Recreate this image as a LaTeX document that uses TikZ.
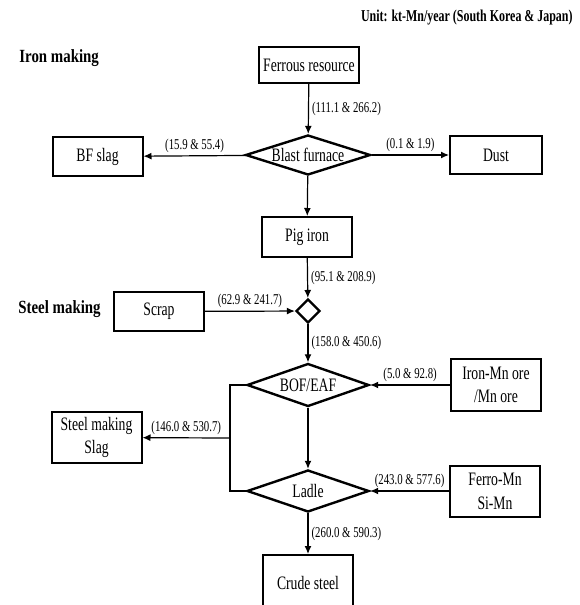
\documentclass[tikz,border=0pt]{standalone}
\usepackage{fontspec}
\setmainfont{Liberation Serif}[FakeStretch=0.72]
\newfontfamily\headfont{Liberation Serif}[FakeStretch=0.8]
\usetikzlibrary{shapes.geometric,arrows.meta}

\begin{document}
\begin{tikzpicture}[x=0.5pt,y=-0.5pt]
        \clip (0,0) rectangle (579,605);
        \tikzstyle{stock}=[rectangle,draw,line width=1pt,inner sep=1pt,align=center,
        minimum width=45pt,font=\fontsize{9.5}{11.75}\selectfont]
        \tikzstyle{process}=[diamond,draw,line width=1.2pt,inner sep=0pt,shape aspect=3,
        minimum width=61pt,minimum height=21pt,font=\fontsize{9.5}{11.75}\selectfont]
        \tikzstyle{flow}=[line width=0.6pt,-{Latex[length=4pt,width=3.5pt]}]
        \tikzstyle{amount}=[inner sep=1.5pt,font=\fontsize{7.5}{9}\selectfont]
        \tikzstyle{stage}=[anchor=west,inner sep=0pt,font=\headfont\bfseries\fontsize{9.3}{11}\selectfont]
        \node at (573,18) [anchor=east,inner sep=0pt,font=\bfseries\fontsize{8.3}{10}\selectfont] (unit) {Unit: kt-Mn/year (South Korea \& Japan)};
        \node at (19,58) [stage] (ironmaking) {Iron making};
        \node at (18,309) [stage] (steelmaking) {Steel making};
        % iron making
        \node at (309,65) [stock,minimum width=50pt,minimum height=18pt] (ferrous) {Ferrous resource};
        \node at (308,155) [process,minimum width=62.5pt,minimum height=20pt] (furnace) {Blast furnace};
        \node at (97.5,156.5) [stock,minimum height=19.5pt] (bfslag) {BF slag};
        \node at (496,155) [stock,minimum width=46pt,minimum height=19pt] (dust) {Dust};
        \node at (307,237) [stock,minimum height=20pt] (pigiron) {Pig iron};
        % steel making
        \node at (308,311) [diamond,draw,line width=1.2pt,inner sep=0pt,minimum size=12pt] (mixer) {};
        \node at (159,311.5) [stock,minimum height=19.5pt] (scrap) {Scrap};
        \node at (308,385) [process,minimum height=21.5pt] (bof) {BOF/EAF};
        \node at (496,385) [stock,minimum height=26pt] (mnore) {Iron-Mn ore\\/Mn ore};
        \node at (96.5,437.5) [stock,minimum height=25.5pt] (smslag) {Steel making\\Slag};
        \node at (308,491) [process] (ladle) {Ladle};
        \node at (495,491.5) [stock,minimum height=25.5pt] (ferromn) {Ferro-Mn\\Si-Mn};
        \node at (308,583) [stock,minimum height=28pt] (crude) {Crude steel};
        \coordinate (bend) at (230,438);
        \draw[flow] (ferrous) -- node[amount,right] {(111.1 \& 266.2)} (furnace);
        \draw[flow] (furnace) -- node[amount,above] {(15.9 \& 55.4)} (bfslag);
        \draw[flow] (furnace) -- node[amount,above] {(0.1 \& 1.9)} (dust);
        \draw[flow] (furnace) -- (pigiron);
        \draw[flow] (pigiron) -- node[amount,right] {(95.1 \& 208.9)} (mixer);
        \draw[flow] (scrap) -- node[amount,above] {(62.9 \& 241.7)} (mixer);
        \draw[flow] (mixer) -- node[amount,right] {(158.0 \& 450.6)} (bof);
        \draw[flow] (mnore) -- node[amount,above] {(5.0 \& 92.8)} (bof);
        \draw[flow] (bof) -- (ladle);
        \draw[flow] (ferromn.west |- ladle) -- node[amount,above] {(243.0 \& 577.6)} (ladle);
        \draw[flow] (ladle) -- node[amount,right] {(260.0 \& 590.3)} (crude);
        \draw[line width=0.6pt] (bof.west) -| (bend) |- (ladle.west);
        \draw[flow] (bend) -- node[amount,above] {(146.0 \& 530.7)} (smslag);
      \end{tikzpicture}
\end{document}
